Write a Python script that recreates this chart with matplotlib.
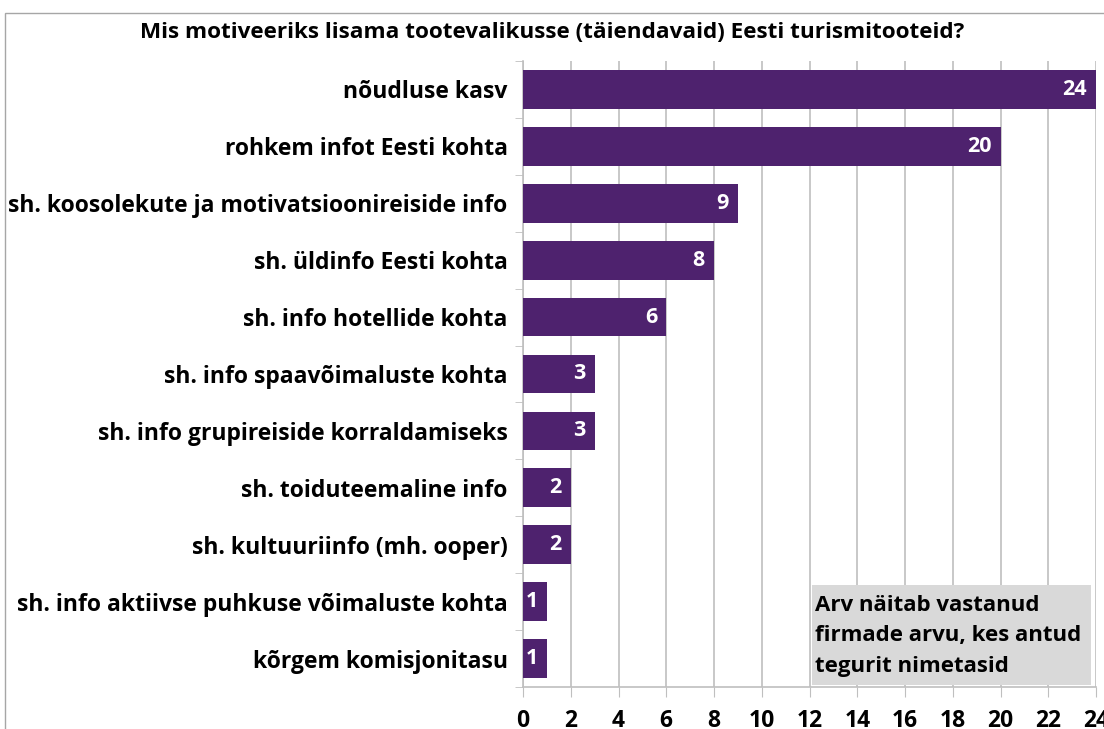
import matplotlib
matplotlib.use("Agg")
import matplotlib.pyplot as plt
from matplotlib.patches import Rectangle

plt.rcParams['font.family'] = ['Open Sans', 'DejaVu Sans']
plt.rcParams['font.weight'] = 'bold'

categories = [
    "nõudluse kasv",
    "rohkem infot Eesti kohta",
    "sh. koosolekute ja motivatsioonireiside info",
    "sh. üldinfo Eesti kohta",
    "sh. info hotellide kohta",
    "sh. info spaavõimaluste kohta",
    "sh. info grupireiside korraldamiseks",
    "sh. toiduteemaline info",
    "sh. kultuuriinfo (mh. ooper)",
    "sh. info aktiivse puhkuse võimaluste kohta",
    "kõrgem komisjonitasu",
]
values = [24, 20, 9, 8, 6, 3, 3, 2, 2, 1, 1]
xticks = [0, 2, 4, 6, 8, 10, 12, 14, 16, 18, 20, 22, 24]
title = "Mis motiveeriks lisama tootevalikusse (täiendavaid) Eesti turismitooteid?"
note = "Arv näitab vastanud\nfirmade arvu, kes antud\ntegurit nimetasid"

bar_color = "#4E226E"
grid_color = "#BFBFBF"

W, H = 1104, 729
fig = plt.figure(figsize=(W / 100, H / 100), dpi=100)
ax = fig.add_axes([523 / W, 1 - 687 / H, (1096 - 523) / W, (687 - 61) / H])

n = len(categories)
ypos = list(range(n))
ax.barh(ypos, values, height=0.68, color=bar_color, zorder=3)
ax.set_ylim(n - 0.5, -0.5)
ax.set_xlim(0, 24)

for y, v in zip(ypos, values):
    ax.text(v - 0.38, y, str(v), ha='right', va='center', color='white',
            fontsize=15.5, fontweight='bold', zorder=4)

ax.set_yticks(ypos)
ax.set_yticklabels(categories, fontsize=16.5, fontweight='bold')
ax.tick_params(axis='y', length=0, pad=11)
ax.set_yticks([i - 0.5 for i in range(n + 1)], minor=True)
ax.tick_params(axis='y', which='minor', length=6, color=grid_color, direction='out')

ax.set_xticks(xticks)
ax.set_xticklabels([str(t) for t in xticks], fontsize=16.5, fontweight='bold')
ax.tick_params(axis='x', length=7, color=grid_color, pad=9)

ax.grid(axis='x', color=grid_color, linewidth=1.2, zorder=0)
for s in ['top', 'right']:
    ax.spines[s].set_visible(False)
for s in ['left', 'bottom']:
    ax.spines[s].set_color(grid_color)
    ax.spines[s].set_linewidth(1.2)

bx0 = (812 - 523) / (1096 - 523)
bx1 = (1091 - 523) / (1096 - 523)
by0 = (687 - 685) / (687 - 61)
by1 = (687 - 585) / (687 - 61)
ax.add_patch(Rectangle((bx0, by0), bx1 - bx0, by1 - by0, transform=ax.transAxes,
                       facecolor='#D9D9D9', edgecolor='none', zorder=5))
ax.text(bx0 + 0.006, (687 - 636) / (687 - 61), note, transform=ax.transAxes, ha='left', va='center',
        fontsize=16, fontweight='bold', color='black', linespacing=1.6, zorder=6)

fig.text(552 / W, 1 - 33 / H, title, ha='center', va='center', fontsize=16.2, fontweight='bold')

fig.patches.append(Rectangle((5 / W, -0.1), 1.2, 1 - 13 / H + 0.1, transform=fig.transFigure,
                             facecolor='none', edgecolor='#A6A6A6', linewidth=1, zorder=0))

fig.savefig("out.png", dpi=100)
